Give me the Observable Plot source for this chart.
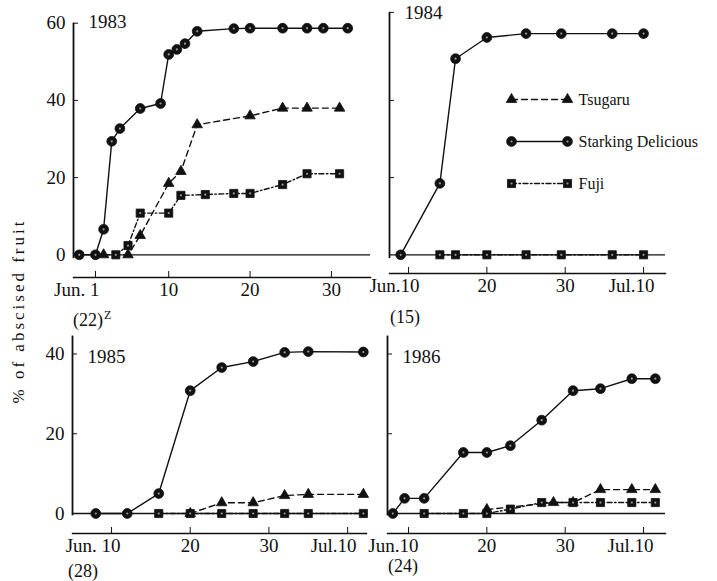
<!DOCTYPE html>
<html><head><meta charset="utf-8">
<script src="https://cdn.jsdelivr.net/npm/d3@7"></script>
<script src="https://cdn.jsdelivr.net/npm/@observablehq/plot@0.6"></script>
<style>
html,body{margin:0;padding:0;background:#fff;}
#chart{position:relative;width:717px;height:581px;overflow:hidden;font-family:"Liberation Serif",serif;color:#111;}
.ann{position:absolute;font-size:18px;line-height:1;white-space:nowrap;color:#111;}
.ytitle{position:absolute;left:19px;top:311px;transform:translate(-50%,-50%) rotate(-90deg);font-size:17px;letter-spacing:3px;white-space:nowrap;color:#111;}
</style></head><body><div id="chart"></div>
<script>
// Day numbering: Jun 1 = 1 ... Jun 30 = 30, Jul 10 = 40
const cultivars = ["Tsugaru", "Starking Delicious", "Fuji"];
const years = ["1983", "1984", "1985", "1986"];
const sampleSizes = ["(22)", "(15)", "(28)", "(24)"];

// 1983
const starking1983Day = [-1, 1, 2, 3, 4, 6.5, 9, 10, 11, 12, 13.5, 18, 20, 24, 27, 29, 32];
const starking1983Pct = [0, 0, 6.6, 29.4, 32.7, 37.9, 39.2, 51.9, 53.2, 54.7, 57.9, 58.6, 58.7, 58.7, 58.7, 58.7, 58.7];
const tsugaru1983Day = [2, 5, 6.5, 10, 11.5, 13.5, 20, 24, 27, 31];
const tsugaru1983Pct = [0, 0, 5, 18.5, 21.6, 33.7, 36, 38, 38, 38];
const fuji1983Day = [3.5, 5, 6.5, 10, 11.5, 14.5, 18, 20, 24, 27, 31];
const fuji1983Pct = [0, 2.4, 10.8, 10.8, 15.4, 15.6, 15.9, 15.9, 18.2, 21, 21];
// 1984
const starking1984Day = [9, 14, 16, 20, 25, 29.5, 36, 40];
const starking1984Pct = [0, 18.5, 50.8, 56.3, 57.3, 57.3, 57.3, 57.3];
const tsugaru1984Day = [];
const tsugaru1984Pct = [];
const fuji1984Day = [14, 16, 20, 25, 29.5, 36, 40];
const fuji1984Pct = [0, 0, 0, 0, 0, 0, 0];
// 1985
const starking1985Day = [8, 12, 16, 20, 24, 28, 32, 35, 42];
const starking1985Pct = [0, 0, 5, 30.8, 36.6, 38.1, 40.4, 40.6, 40.5];
const tsugaru1985Day = [20, 24, 28, 32, 35, 42];
const tsugaru1985Pct = [0, 2.7, 2.7, 4.5, 4.8, 4.8];
const fuji1985Day = [16, 20, 24, 28, 32, 35, 42];
const fuji1985Pct = [0, 0, 0, 0, 0, 0, 0];
// 1986
const starking1986Day = [8, 9.5, 12, 17, 20, 23, 27, 31, 34.5, 38.5, 41.5];
const starking1986Pct = [0, 3.8, 3.8, 15.3, 15.3, 17, 23.4, 30.8, 31.3, 33.8, 33.8];
const tsugaru1986Day = [20, 28.5, 31, 34.5, 38.5, 41.5];
const tsugaru1986Pct = [1, 2.75, 2.75, 6, 6, 6];
const fuji1986Day = [12, 17, 20, 23, 27, 31, 34.5, 38.5, 41.5];
const fuji1986Pct = [0, 0, 0, 1.1, 2.75, 2.75, 2.75, 2.75, 2.75];

const seriesByYear = {
  "1983": [[tsugaru1983Day, tsugaru1983Pct], [starking1983Day, starking1983Pct], [fuji1983Day, fuji1983Pct]],
  "1984": [[tsugaru1984Day, tsugaru1984Pct], [starking1984Day, starking1984Pct], [fuji1984Day, fuji1984Pct]],
  "1985": [[tsugaru1985Day, tsugaru1985Pct], [starking1985Day, starking1985Pct], [fuji1985Day, fuji1985Pct]],
  "1986": [[tsugaru1986Day, tsugaru1986Pct], [starking1986Day, starking1986Pct], [fuji1986Day, fuji1986Pct]]
};

// layout (page pixels)
const W = 717, H = 581;
const layout = {
  "1983": {xDomain: [-1.7, 34.8], xRange: [73, 370], yDomain: [0, 60], yRange: [254.3, 22.7], axisTop: 60, axisBottom: -1,
           xAxisY: 277, yTicks: [0, 20, 40, 60], yLabels: true, midTicks: [10, 20, 30], edgeTicks: [1],
           edgeFormat: {1: "Jun. 1"}, edgeDx: 4, yearY: 60, yearDy: -1.5, n: [73, 311], sup: true},
  "1984": {xDomain: [7.57, 42.8], xRange: [389, 665], yDomain: [0, 60], yRange: [254.3, 22.7], axisTop: 62.8, axisBottom: -1,
           xAxisY: 273, yTicks: [20, 40, 62.8], yLabels: false, midTicks: [20, 30], edgeTicks: [10, 40],
           edgeFormat: {10: "Jun.10", 40: "Jul.10"}, edgeDx: 11, yearY: 62.8, yearDy: 1, n: [390, 308], sup: false},
  "1985": {xDomain: [5.04, 42.4], xRange: [72, 366], yDomain: [0, 40], yRange: [513, 353.5], axisTop: 44.5, axisBottom: -0.6,
           xAxisY: 533, yTicks: [0, 20, 40], yLabels: true, midTicks: [20, 30], edgeTicks: [10, 40],
           edgeFormat: {10: "Jun. 10", 40: "Jul.10"}, edgeDx: 9, yearY: 40, yearDy: 2.5, n: [68, 562], sup: false},
  "1986": {xDomain: [7.32, 42.8], xRange: [387, 665], yDomain: [0, 40], yRange: [513, 353.5], axisTop: 44.5, axisBottom: -0.6,
           xAxisY: 533, yTicks: [20, 40], yLabels: false, midTicks: [20, 30], edgeTicks: [10, 40],
           edgeFormat: {10: "Jun.10", 40: "Jul.10"}, edgeDx: 10, yearY: 40, yearDy: 2.5, n: [388, 557], sup: false}
};

const styles = {
  "Tsugaru": {dash: "6,4", symbol: "triangle", r: 3.9},
  "Starking Delicious": {dash: null, symbol: "circle", r: 4.9},
  "Fuji": {dash: "5,2.5,1.5,2.5", symbol: "square", r: 4.6}
};
const INK = "#111";
const svgStyle = "background:transparent;position:absolute;left:0;top:0;overflow:visible;font-family:'Liberation Serif',serif;color:#111;";

function seriesMarks(rows, c) {
  const s = styles[c];
  const data = rows.filter(d => d.cultivar === c);
  const marks = [
    Plot.line(data, {x: "day", y: "pct", stroke: INK, strokeWidth: 1.4, strokeDasharray: s.dash || undefined}),
    Plot.dot(data, {x: "day", y: "pct", symbol: s.symbol, r: s.r, fill: INK, stroke: INK, strokeWidth: 0.8})
  ];
  if (c !== "Tsugaru") marks.push(Plot.dot(data, {x: "day", y: "pct", r: 1.1, fill: "#9a9a9a", stroke: "none"}));
  return marks;
}

const chart = document.getElementById("chart");

years.forEach((yr, yi) => {
  const L = layout[yr];
  const rows = seriesByYear[yr].flatMap(([days, pcts], ci) =>
    days.map((d, i) => ({cultivar: cultivars[ci], day: d, pct: pcts[i]})));
  const plot = Plot.plot({
    width: W, height: H,
    marginLeft: L.xRange[0], marginRight: W - L.xRange[1], marginTop: 0, marginBottom: H - L.xAxisY,
    style: svgStyle,
    x: {domain: L.xDomain, range: L.xRange, label: null},
    y: {domain: L.yDomain, range: L.yRange, label: null},
    marks: [
      Plot.ruleY([0], {stroke: INK, strokeWidth: 1.3}),
      Plot.ruleX([L.xDomain[0]], {y1: L.axisBottom, y2: L.axisTop, stroke: INK, strokeWidth: 1.8}),
      Plot.frame({anchor: "bottom", stroke: INK, strokeWidth: 1.4}),
      Plot.axisY({ticks: L.yTicks, tickSize: -5, tickPadding: 13, fontSize: 19,
                  tickFormat: L.yLabels ? (d => String(d)) : (() => ""), label: null}),
      Plot.axisX({ticks: L.midTicks.concat(L.edgeTicks), tickSize: -6, tickPadding: 11, fontSize: 19,
                  tickFormat: d => L.edgeTicks.includes(d) ? "" : String(d), label: null}),
      Plot.axisX({ticks: L.edgeTicks, tickSize: 0, tickPadding: 5, fontSize: 19, textAnchor: "end", dx: L.edgeDx,
                  tickFormat: d => L.edgeFormat[d], label: null}),
      Plot.text([yr], {x: () => L.xDomain[0], y: () => L.yearY, text: d => d, dx: 15, dy: L.yearDy,
                       textAnchor: "start", fontSize: 19, fill: INK}),
      ...cultivars.flatMap(c => seriesMarks(rows, c))
    ]
  });
  chart.appendChild(plot);

  const n = document.createElement("div");
  n.className = "ann";
  n.style.left = L.n[0] + "px";
  n.style.top = L.n[1] + "px";
  n.innerHTML = sampleSizes[yi] + (L.sup ? '<span style="font-size:12px;position:relative;top:-7px;margin-left:1px">Z</span>' : "");
  chart.appendChild(n);
});

// Legend (inside the 1984 panel)
const legendRows = cultivars.flatMap(c => [{cultivar: c, pos: 0}, {cultivar: c, pos: 1}]);
const legendMarks = [];
cultivars.forEach(c => {
  const s = styles[c];
  const data = legendRows.filter(d => d.cultivar === c);
  legendMarks.push(Plot.line(data, {x: "pos", y: "cultivar", stroke: INK, strokeWidth: 1.4, strokeDasharray: s.dash || undefined}));
  legendMarks.push(Plot.dot(data, {x: "pos", y: "cultivar", symbol: s.symbol, r: s.r, fill: INK, stroke: INK, strokeWidth: 0.8}));
  if (c !== "Tsugaru") legendMarks.push(Plot.dot(data, {x: "pos", y: "cultivar", r: 1.1, fill: "#9a9a9a", stroke: "none"}));
});
legendMarks.push(Plot.text(cultivars, {x: () => 1, y: d => d, text: d => d, dx: 11, textAnchor: "start",
                                        fontSize: 16, fill: INK, style: "letter-spacing:0.4px"}));
const legend = Plot.plot({
  width: W, height: H, margin: 0, style: svgStyle,
  x: {domain: [0, 1], range: [511, 567], axis: null},
  y: {type: "point", domain: cultivars, range: [99, 183], padding: 0, axis: null},
  marks: legendMarks
});
chart.appendChild(legend);

const yt = document.createElement("div");
yt.className = "ytitle";
yt.textContent = "% of abscised fruit";
chart.appendChild(yt);
</script>
</body></html>
